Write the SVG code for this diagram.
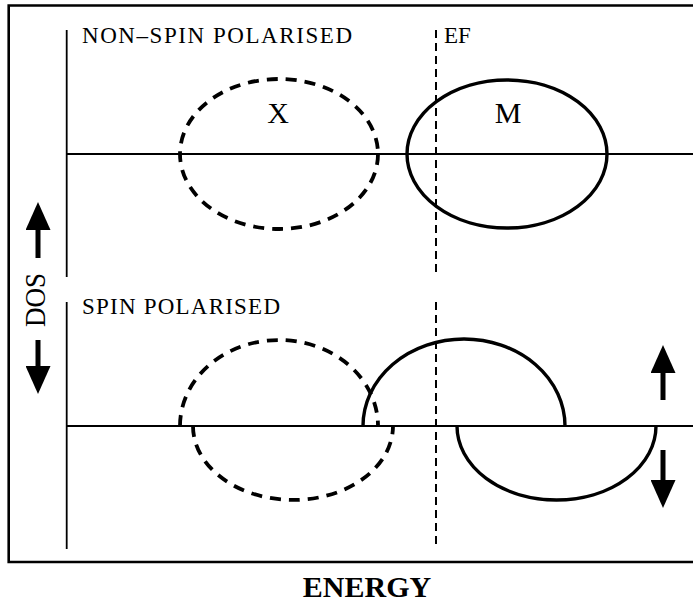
<svg xmlns="http://www.w3.org/2000/svg" width="693" height="602" viewBox="0 0 693 602">
<style>
text{font-family:"Liberation Serif","Times New Roman",serif;fill:#000}
.lbl{font-size:23px}
.big{font-size:30px}
.frame{stroke:#000;stroke-width:2.6;fill:none}
.axis{stroke:#000;stroke-width:1.8;fill:none}
.ef{stroke:#000;stroke-width:2;stroke-dasharray:8 5;fill:none}
.bandX{stroke:#000;stroke-width:3.8;stroke-dasharray:11 8;fill:none}
.bandM{stroke:#000;stroke-width:3.4;fill:none}
.arr{stroke:#000;stroke-width:5;fill:none;marker-end:url(#head)}
</style>
<defs>
<marker id="head" markerUnits="userSpaceOnUse" viewBox="0 0 28 25" refX="1" refY="12.5" markerWidth="28" markerHeight="25" orient="auto">
<path d="M0,0 L28,12.5 L0,25 z" fill="#000"/>
</marker>
</defs>
<rect width="693" height="602" fill="#fff"/>
<g id="frame">
<path class="frame" d="M693,5.5 H8.7 V562 H693"/>
</g>
<g id="axes">
<line class="axis" x1="66.7" y1="30" x2="66.7" y2="277"/>
<line class="axis" x1="66.7" y1="154" x2="693" y2="154"/>
<line class="axis" x1="66.7" y1="302" x2="66.7" y2="549"/>
<line class="axis" x1="66.7" y1="426" x2="693" y2="426"/>
</g>
<g id="fermi-level">
<line class="ef" x1="436" y1="30" x2="436" y2="277"/>
<line class="ef" x1="436" y1="302" x2="436" y2="548"/>
<text class="lbl" x="444" y="43">EF</text>
</g>
<g id="titles">
<text class="lbl" x="82" y="43" textLength="270" lengthAdjust="spacing">NON–SPIN POLARISED</text>
<text class="lbl" x="82" y="314" textLength="198" lengthAdjust="spacing">SPIN POLARISED</text>
</g>
<g id="band-X-nonspin">
<ellipse class="bandX" cx="279" cy="154" rx="99" ry="75"/>
<text class="big" x="278" y="123" text-anchor="middle">X</text>
</g>
<g id="band-M-nonspin">
<ellipse class="bandM" cx="507" cy="154" rx="100" ry="74"/>
<text class="big" x="508" y="123" text-anchor="middle">M</text>
</g>
<g id="band-X-spin">
<path class="bandX" d="M180,426 A99,86 0 0 1 378,426"/>
<path class="bandX" d="M193,426 A100,74 0 0 0 393,426"/>
</g>
<g id="band-M-spin">
<path class="bandM" d="M363,426 A101,87 0 0 1 565,426"/>
<path class="bandM" d="M457,426 A99.5,74 0 0 0 656,426"/>
</g>
<g id="connectors">
<line class="arr" x1="38" y1="258" x2="38" y2="229"/>
<line class="arr" x1="38" y1="340" x2="38" y2="367"/>
<line class="arr" x1="663" y1="400" x2="663" y2="372"/>
<line class="arr" x1="663" y1="450" x2="663" y2="481"/>
</g>
<g id="dos-label">
<text class="big" transform="translate(45,300) rotate(-90)" x="0" y="0" text-anchor="middle" textLength="54" lengthAdjust="spacingAndGlyphs">DOS</text>
</g>
<g id="energy-label">
<text x="367" y="597" text-anchor="middle" font-size="30" font-weight="bold">ENERGY</text>
</g>
</svg>
